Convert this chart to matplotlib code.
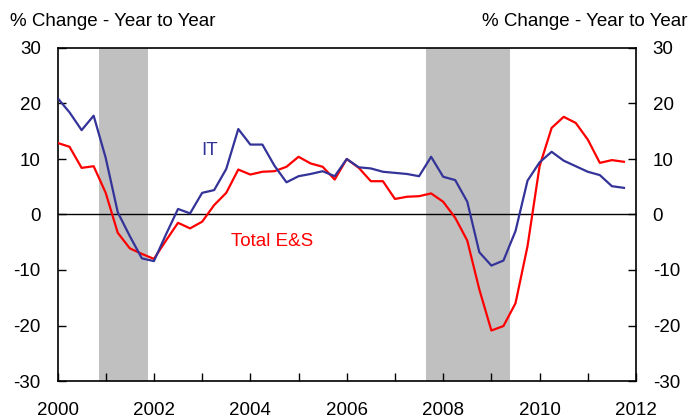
import matplotlib
matplotlib.use("Agg")
import matplotlib.pyplot as plt
import numpy as np
from matplotlib.ticker import MultipleLocator

plt.rcParams["font.family"] = ["Liberation Sans", "DejaVu Sans"]
plt.rcParams["axes.unicode_minus"] = False

# quarterly data, 2000Q1 .. 2011Q4
start_year = 2000
it_vals = [21.0, 18.4, 15.2, 17.8,
           10.2, 0.4, -3.9, -7.9,
           -8.4, -3.6, 1.0, 0.2,
           3.9, 4.4, 8.2, 15.4,
           12.6, 12.6, 8.8, 5.8,
           6.9, 7.3, 7.8, 6.9,
           10.0, 8.5, 8.3, 7.7,
           7.5, 7.3, 6.9, 10.4,
           6.8, 6.2, 2.3, -6.8,
           -9.2, -8.3, -3.0, 6.1,
           9.4, 11.3, 9.7, 8.7,
           7.7, 7.1, 5.1, 4.8]
total_vals = [12.9, 12.2, 8.4, 8.7,
              3.9, -3.3, -6.1, -7.1,
              -8.0, -4.7, -1.5, -2.5,
              -1.3, 1.7, 3.9, 8.1,
              7.2, 7.7, 7.8, 8.6,
              10.4, 9.2, 8.6, 6.3,
              10.0, 8.4, 6.0, 6.0,
              2.8, 3.2, 3.3, 3.8,
              2.3, -0.6, -4.7, -13.5,
              -20.9, -20.1, -16.0, -5.7,
              8.7, 15.6, 17.6, 16.5,
              13.5, 9.3, 9.8, 9.5]
recessions = [(2000.86, 2001.88), (2007.65, 2009.39)]

x = start_year + np.arange(len(it_vals)) * 0.25

fig = plt.figure(figsize=(6.89, 4.19), dpi=100)
ax = fig.add_axes([57.5 / 689, 1 - 381 / 419, (636 - 57.5) / 689, (381 - 48) / 419])

for a, b in recessions:
    ax.axvspan(a, b, color="#c0c0c0", lw=0, zorder=0)
ax.axhline(0, color="black", lw=1.0, zorder=1)

ax.plot(x, total_vals, color="#ff0000", lw=1.6, zorder=3)
ax.plot(x, it_vals, color="#333399", lw=1.6, zorder=4)

ax.text(2003.15, 11.6, "IT", color="#333399", fontsize=13.5, ha="center", va="center")
ax.text(2004.46, -4.9, "Total E&S", color="#ff0000", fontsize=13.5, ha="center", va="center")

ax.set_xlim(2000, 2012)
ax.set_ylim(-30, 30)
ax.xaxis.set_major_locator(MultipleLocator(2))
ax.xaxis.set_minor_locator(MultipleLocator(1))
ax.yaxis.set_major_locator(MultipleLocator(10))
ax.tick_params(axis="x", which="both", direction="in", length=6, width=1, pad=15, labelsize=13.5)
ax.tick_params(axis="y", which="both", direction="in", length=6, width=1, pad=12,
               labelsize=13.5, left=True, right=True, labelleft=True, labelright=True)
for s in ax.spines.values():
    s.set_linewidth(1.2)

fig.text(10 / 689, 1 - 22 / 419, "% Change - Year to Year", fontsize=13.5, ha="left", va="center")
fig.text(688 / 689, 1 - 22 / 419, "% Change - Year to Year", fontsize=13.5, ha="right", va="center")

fig.savefig("out.png", dpi=100)
